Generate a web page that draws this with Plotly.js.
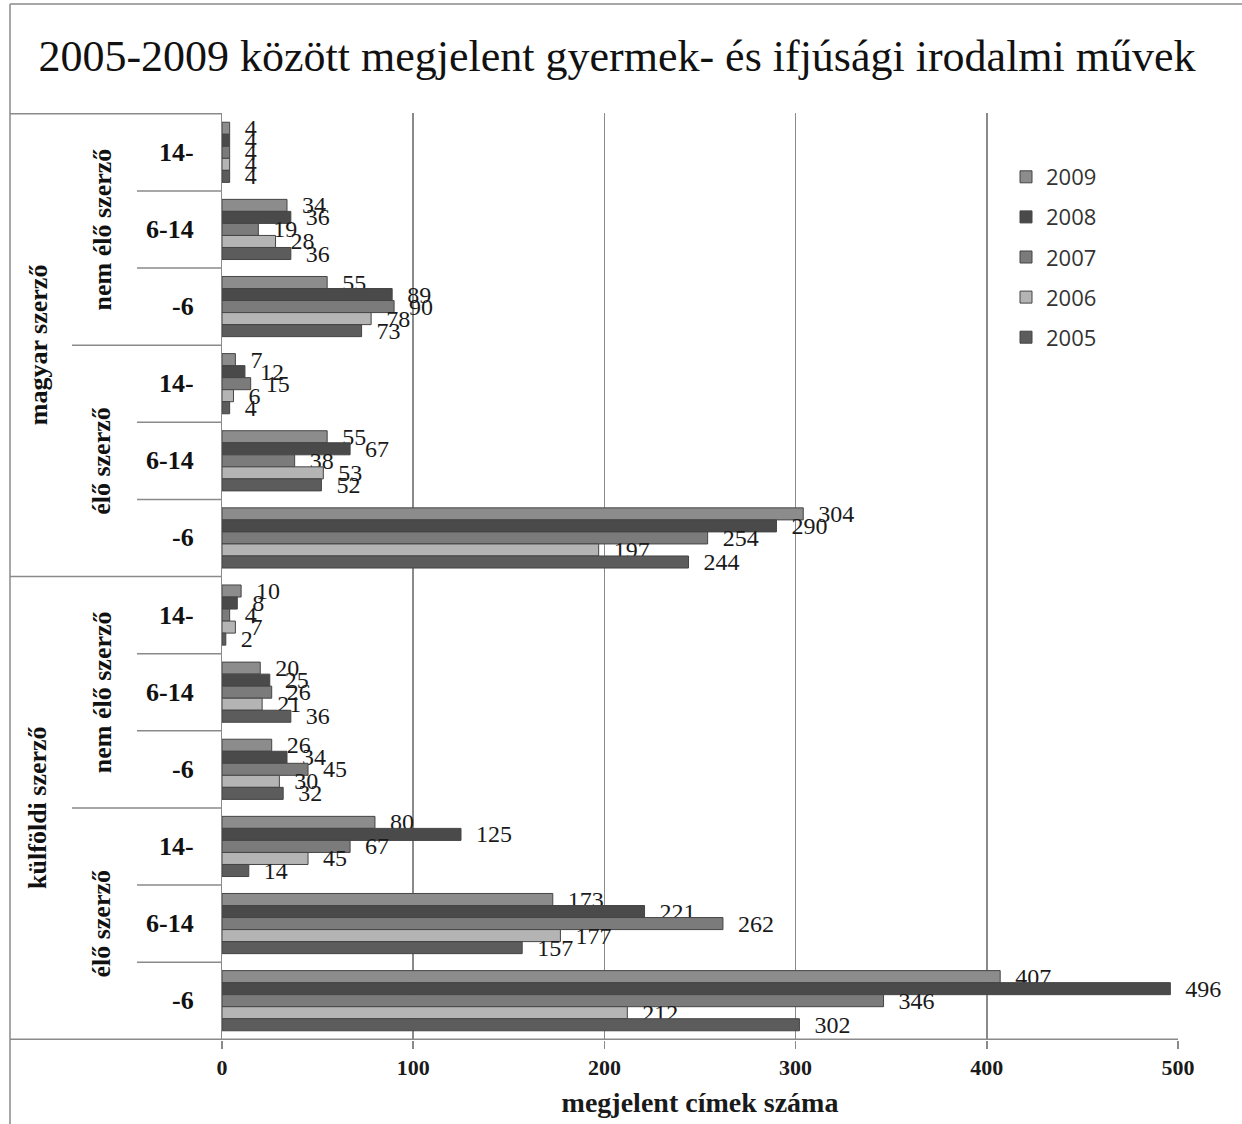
<!DOCTYPE html>
<html>
<head>
<meta charset="utf-8">
<script src="https://cdn.plot.ly/plotly-3.0.1.min.js"></script>
<style>html,body{margin:0;padding:0;background:#fff;}#chart{width:1242px;height:1124px;}</style>
</head>
<body>
<div id="chart"></div>
<script>
// ---- data ----
const origins = ['magyar szerző', 'külföldi szerző'];
const statuses = ['nem élő szerző', 'élő szerző'];
const ages = ['14-', '6-14', '-6'];
const years = ['2009', '2008', '2007', '2006', '2005'];
// values per category, top to bottom
const v2009 = [4, 34, 55, 7, 55, 304, 10, 20, 26, 80, 173, 407];
const v2008 = [4, 36, 89, 12, 67, 290, 8, 25, 34, 125, 221, 496];
const v2007 = [4, 19, 90, 15, 38, 254, 4, 26, 45, 67, 262, 346];
const v2006 = [4, 28, 78, 6, 53, 197, 7, 21, 30, 45, 177, 212];
const v2005 = [4, 36, 73, 4, 52, 244, 2, 36, 32, 14, 157, 302];
const xTicks = [0, 100, 200, 300, 400, 500];
const titleText = '2005-2009 között megjelent gyermek- és ifjúsági irodalmi művek';
const xTitle = 'megjelent címek száma';

// ---- build ----
const cats = [];
origins.forEach(o => statuses.forEach(s => ages.forEach(a => cats.push(o + ' / ' + s + ' / ' + a))));
const series = [v2009, v2008, v2007, v2006, v2005];
const colors = ['#8c8c8c', '#4a4a4a', '#7b7b7b', '#b4b4b4', '#5c5c5c'];

const serif = 'Liberation Serif, Times New Roman, serif';
const traces = series.map((vals, i) => ({
  type: 'bar', orientation: 'h', name: years[i], legendgroup: years[i],
  x: vals, y: cats,
  marker: {color: colors[i], line: {color: '#454545', width: 1}},
  text: vals.map(String),
  texttemplate: '\u00a0\u00a0%{x}',
  textposition: 'outside', constraintext: 'none', cliponaxis: false,
  textfont: {family: serif, size: 24, color: '#1a1a1a'},
  hoverinfo: 'x+name'
}));

const L = 222, R = 1178, T = 113, B = 1040, W = 1242, H = 1124;
const px = v => (v - L) / (R - L);
const py = v => 1 - (v - T) / (B - T);
const lineC = '#8a8a8a';

const shapes = [];
// outer frame (left + top)
shapes.push({type: 'line', xref: 'paper', yref: 'paper', x0: px(10), x1: px(1242), y0: py(4), y1: py(4), line: {color: lineC, width: 1.5}});
shapes.push({type: 'line', xref: 'paper', yref: 'paper', x0: px(10), x1: px(10), y0: py(4), y1: py(1124), line: {color: lineC, width: 1.5}});
// table top & bottom
shapes.push({type: 'line', xref: 'paper', yref: 'y', x0: px(10), x1: 0, y0: -0.5, y1: -0.5, line: {color: lineC, width: 1.5}});
shapes.push({type: 'line', xref: 'paper', yref: 'y', x0: px(10), x1: 1, y0: cats.length - 0.5, y1: cats.length - 0.5, line: {color: lineC, width: 1.5}});
// separators
const nA = ages.length, nS = statuses.length;
for (let k = 1; k < cats.length; k++) {
  let x0;
  if (k % (nA * nS) === 0) x0 = px(10);
  else if (k % nA === 0) x0 = px(72);
  else x0 = px(137);
  shapes.push({type: 'line', xref: 'paper', yref: 'y', x0: x0, x1: 0, y0: k - 0.5, y1: k - 0.5, line: {color: lineC, width: 1.5}});
}

const annotations = [];
const lblFont = {family: serif, size: 26, color: '#111', weight: 'bold'};
cats.forEach((c, k) => {
  annotations.push({xref: 'paper', yref: 'y', x: px(196), y: k, text: ages[k % nA], showarrow: false, xanchor: 'right', yanchor: 'middle', font: lblFont});
});
for (let g = 0; g < origins.length * nS; g++) {
  annotations.push({xref: 'paper', yref: 'y', x: px(102), y: g * nA + (nA - 1) / 2, text: statuses[g % nS], textangle: -90, showarrow: false, xanchor: 'center', yanchor: 'middle', font: lblFont});
}
origins.forEach((o, i) => {
  annotations.push({xref: 'paper', yref: 'y', x: px(38), y: i * nA * nS + (nA * nS - 1) / 2, text: o, textangle: -90, showarrow: false, xanchor: 'center', yanchor: 'middle', font: lblFont});
});

const layout = {
  width: W, height: H,
  margin: {l: L, r: W - R, t: T, b: H - B, pad: 0},
  paper_bgcolor: '#ffffff', plot_bgcolor: '#ffffff',
  barmode: 'group', bargap: 0.22, bargroupgap: 0,
  title: {text: titleText, font: {family: serif, size: 44, color: '#111'}, x: 617 / W, xref: 'container', xanchor: 'center', y: 1 - 56 / H, yref: 'container', yanchor: 'middle'},
  xaxis: {
    range: [0, 500], tickvals: xTicks, ticktext: xTicks.map(String),
    showgrid: true, gridcolor: lineC, gridwidth: 1.5, zeroline: false,
    ticks: 'outside', ticklen: 8, tickcolor: lineC, tickwidth: 1.5,
    tickfont: {family: serif, size: 22, color: '#1a1a1a', weight: 'bold'},
    showline: false, fixedrange: true,
    title: {text: xTitle, font: {family: serif, size: 28, color: '#1a1a1a', weight: 'bold'}, standoff: 12}
  },
  yaxis: {
    type: 'category', categoryorder: 'array', categoryarray: cats,
    autorange: 'reversed', showticklabels: false, ticks: '',
    showgrid: false, showline: true, linecolor: lineC, linewidth: 1.5, zeroline: false,
    fixedrange: true
  },
  legend: {
    x: px(1006), y: py(156), xanchor: 'left', yanchor: 'top',
    traceorder: 'grouped', tracegroupgap: 8.5,
    font: {family: 'Open Sans, Noto Sans, sans-serif', size: 22, color: '#333'},
    bgcolor: 'rgba(0,0,0,0)'
  },
  showlegend: true,
  shapes: shapes,
  annotations: annotations
};

Plotly.newPlot('chart', traces, layout, {displayModeBar: false, staticPlot: true});
</script>
</body>
</html>
